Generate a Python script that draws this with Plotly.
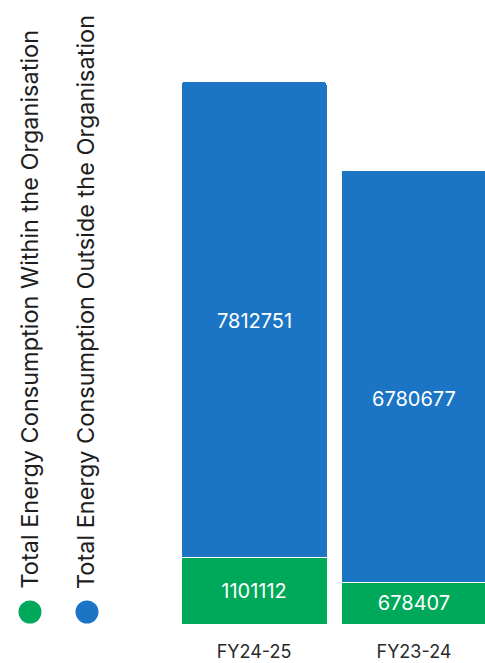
import plotly.graph_objects as go

categories = ["FY24-25", "FY23-24"]
within_org = [1101112, 678407]
outside_org = [7812751, 6780677]
series_names = ["Total Energy Consumption Within the Organisation",
                "Total Energy Consumption Outside the Organisation"]
colors = ["#00a85a", "#1c75c4"]

W, H = 485, 663
ML, MR, MT, MB = 174, 0, 40, 39
PW, PH = W - ML - MR, H - MT - MB
FONT = "Inter"

def px_x(p):
    return (p - ML) / PW

def px_y(p):
    return (H - MB - p) / PH

fig = go.Figure()
fig.add_trace(go.Bar(
    x=categories, y=within_org, name=series_names[0],
    marker=dict(color=colors[0], line=dict(color="white", width=1)),
    text=[str(v) for v in within_org], textposition="inside",
    insidetextanchor="middle",
    textfont=dict(color="white", size=20, family=FONT),
    showlegend=False,
))
fig.add_trace(go.Bar(
    x=categories, y=outside_org, name=series_names[1],
    marker=dict(color=colors[1], line=dict(color="white", width=1)),
    showlegend=False,
))

# labels of the upper segments (placed a bit below segment centre, as in reference)
label_shift = [-2, -23]
for i, cat in enumerate(categories):
    fig.add_annotation(
        x=cat, y=within_org[i] + outside_org[i] / 2, text=str(outside_org[i]),
        showarrow=False, yshift=label_shift[i],
        font=dict(color="white", size=20, family=FONT),
    )

fig.update_layout(
    barmode="stack", bargap=0.0875, barcornerradius=3,
    width=W, height=H,
    margin=dict(l=ML, r=MR, t=MT, b=MB),
    paper_bgcolor="white", plot_bgcolor="white",
    font=dict(family=FONT, color="#333333"),
    xaxis=dict(range=[-0.5, -0.5 + PW / 160], showgrid=False, zeroline=False,
               showline=False, ticks="", tickfont=dict(size=18, color="#2a2a2a"),
               ticklabelstandoff=15, automargin=False),
    yaxis=dict(range=[0, 9.6e6], visible=False, automargin=False),
    uniformtext=dict(minsize=20, mode="show"),
)

legend_x = [29, 85]
circle_x = [30, 87]
for i in range(2):
    fig.add_annotation(
        text=series_names[i], textangle=-90, showarrow=False,
        xref="paper", yref="paper", x=px_x(legend_x[i]), y=px_y(591),
        xanchor="center", yanchor="bottom",
        font=dict(size=23.5, color="#1e1e1e", family=FONT),
    )
    fig.add_shape(
        type="circle", xref="paper", yref="paper",
        xsizemode="pixel", ysizemode="pixel",
        xanchor=px_x(circle_x[i]), yanchor=px_y(612),
        x0=-11.5, x1=11.5, y0=-11.5, y1=11.5,
        fillcolor=colors[i], line=dict(width=0),
    )

fig.write_html("out.html")
